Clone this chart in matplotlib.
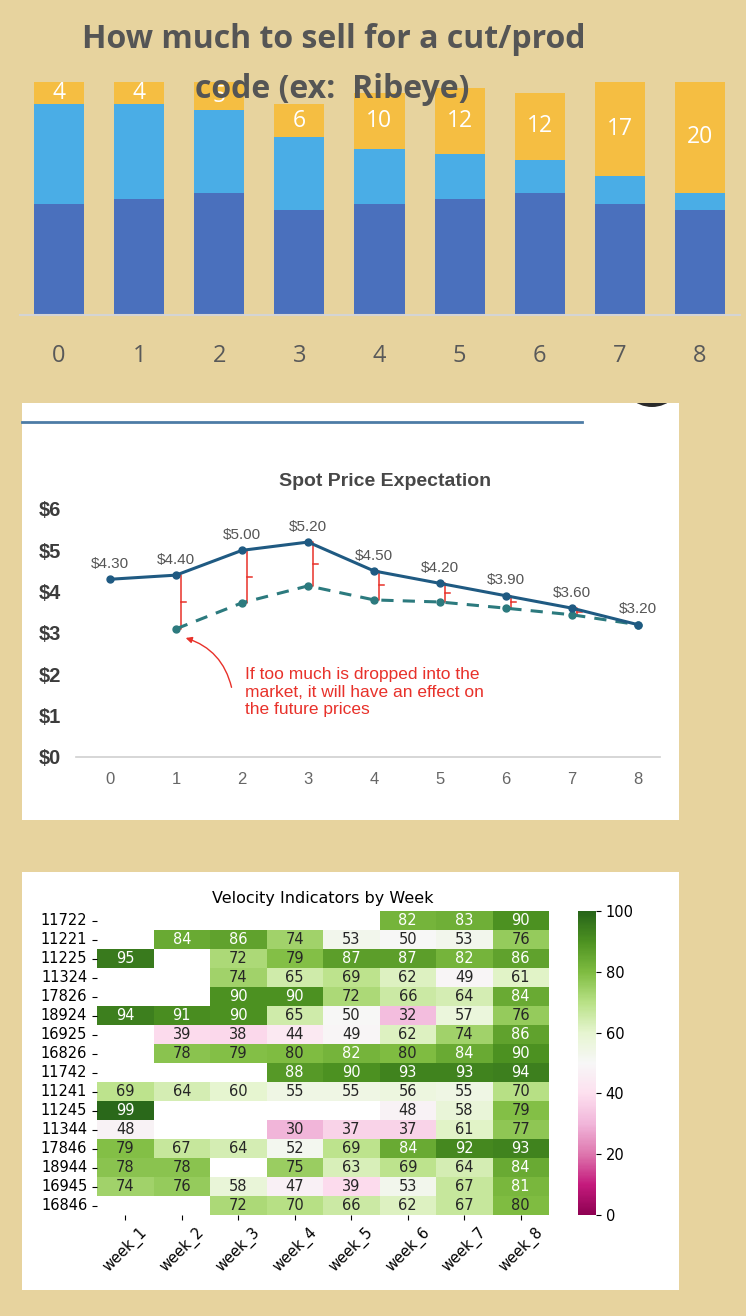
import numpy as np
import matplotlib
matplotlib.use("Agg")
import matplotlib.pyplot as plt
import seaborn as sns
import pandas as pd
from matplotlib.patches import Rectangle, Ellipse

# composite canvas, positions worked out in pixels
W, H = 746, 1316

def box(x0, y0, x1, y1):
    return [x0 / W, 1 - y1 / H, (x1 - x0) / W, (y1 - y0) / H]

def fx(x):
    return x / W

def fy(y):
    return 1 - y / H

# --- top stacked bars
periods = [0, 1, 2, 3, 4, 5, 6, 7, 8]
base_units = [20, 21, 22, 19, 20, 21, 22, 20, 19]
mid_units = [18, 17, 15, 13, 10, 8, 6, 5, 3]
sell_units = [4, 4, 5, 6, 10, 12, 12, 17, 20]

# --- spot price
spot_price = [4.30, 4.40, 5.00, 5.20, 4.50, 4.20, 3.90, 3.60, 3.20]
dropped_periods = [1, 2, 3, 4, 5, 6, 7, 8]
dropped_price = [3.10, 3.73, 4.14, 3.80, 3.75, 3.60, 3.44, 3.20]
price_ticks = [0, 1, 2, 3, 4, 5, 6]

# --- velocity heatmap
nan = np.nan
codes = ["11722", "11221", "11225", "11324", "17826", "18924", "16925", "16826",
         "11742", "11241", "11245", "11344", "17846", "18944", "16945", "16846"]
weeks = ["week_1", "week_2", "week_3", "week_4", "week_5", "week_6", "week_7", "week_8"]
velocity = [
    [nan, nan, nan, nan, nan, 82, 83, 90],
    [nan, 84, 86, 74, 53, 50, 53, 76],
    [95, nan, 72, 79, 87, 87, 82, 86],
    [nan, nan, 74, 65, 69, 62, 49, 61],
    [nan, nan, 90, 90, 72, 66, 64, 84],
    [94, 91, 90, 65, 50, 32, 57, 76],
    [nan, 39, 38, 44, 49, 62, 74, 86],
    [nan, 78, 79, 80, 82, 80, 84, 90],
    [nan, nan, nan, 88, 90, 93, 93, 94],
    [69, 64, 60, 55, 55, 56, 55, 70],
    [99, nan, nan, nan, nan, 48, 58, 79],
    [48, nan, nan, 30, 37, 37, 61, 77],
    [79, 67, 64, 52, 69, 84, 92, 93],
    [78, 78, nan, 75, 63, 69, 64, 84],
    [74, 76, 58, 47, 39, 53, 67, 81],
    [nan, nan, 72, 70, 66, 62, 67, 80],
]

parchment = "#e7d39e"
fig = plt.figure(figsize=(W / 100, H / 100), dpi=100, facecolor=parchment)

# ================= top chart =================
ax1 = fig.add_axes(box(20, 82, 740, 315))
ax1.patch.set_alpha(0)
w = 0.625
ax1.bar(periods, base_units, width=w, color="#4a70bd")
ax1.bar(periods, mid_units, width=w, bottom=base_units, color="#4aade6")
bottoms = [a + b for a, b in zip(base_units, mid_units)]
top_bars = ax1.bar(periods, sell_units, width=w, bottom=bottoms, color="#f5be42")
ax1.bar_label(top_bars, labels=[str(v) for v in sell_units], label_type="center",
              color="white", fontsize=16.5, family="Open Sans")
ax1.set_xlim(-0.487, 8.5)
ax1.set_ylim(0, 42)
for s in ["top", "left", "right"]:
    ax1.spines[s].set_visible(False)
ax1.spines["bottom"].set_color("#d4d4d4")
ax1.spines["bottom"].set_linewidth(1.5)
ax1.set_yticks([])
ax1.set_xticks(periods)
ax1.set_xticklabels([str(p) for p in periods], fontsize=17, color="#595959", family="Open Sans")
ax1.tick_params(axis="x", length=0, pad=21)

# title sits over the bars like in the slide
fig.text(fx(334), fy(40), "How much to sell for a cut/prod", ha="center", va="center",
         fontsize=23, fontweight="bold", color="#555555", family="Open Sans", zorder=10)
fig.text(fx(332), fy(90), "code (ex:  Ribeye)", ha="center", va="center",
         fontsize=23, fontweight="bold", color="#555555", family="Open Sans", zorder=10)

# ================= spot price panel =================
panel2 = Rectangle((fx(22), fy(820)), fx(679) - fx(22), fy(403) - fy(820),
                   transform=fig.transFigure, facecolor="white", edgecolor="none", zorder=-5)
fig.patches.append(panel2)
blob = Ellipse((fx(652), fy(376)), fx(62), 62 / H, transform=fig.transFigure,
               facecolor="#2a2a2a", edgecolor="none", zorder=-4)
blob.set_clip_path(panel2)
fig.patches.append(blob)
fig.lines.append(plt.Line2D([fx(22), fx(582)], [fy(422), fy(422)], transform=fig.transFigure,
                            color="#4d7ca6", linewidth=2))

ax2 = fig.add_axes(box(76, 509, 660, 757))
ax2.patch.set_alpha(0)
ax2.plot(periods, spot_price, color="#1f5a82", lw=2.2, marker="o", ms=5, zorder=4)
ax2.plot(dropped_periods, dropped_price, color="#2c7a7e", lw=2.2, ls=(0, (4, 3)),
         marker="o", ms=5, zorder=3)

# red brackets between expected and dropped-market price
for i, p in enumerate(dropped_periods[:-1]):
    top = spot_price[p]
    bot = dropped_price[i]
    xb = p + 0.08
    ax2.plot([p, xb, xb, p], [top, top, bot, bot], color="#e8312a", lw=1.1, zorder=2)
    ax2.plot([xb, xb + 0.07], [(top + bot) / 2] * 2, color="#e8312a", lw=1.1, zorder=2)

for p, v in zip(periods, spot_price):
    ax2.annotate(f"${v:.2f}", (p, v), xytext=(0, 6), textcoords="offset points",
                 ha="center", va="bottom", fontsize=11, color="#555555",
                 family="Liberation Sans")

ax2.set_xlim(-0.515, 8.33)
ax2.set_ylim(0, 6)
ax2.set_yticks(price_ticks)
ax2.set_yticklabels([f"${t}" for t in price_ticks], fontsize=14.5, fontweight="bold",
                    color="#3c3c3c", family="Liberation Sans")
ax2.set_xticks(periods)
ax2.set_xticklabels([str(p) for p in periods], fontsize=12, color="#666666",
                    family="Liberation Sans")
ax2.tick_params(axis="y", length=0, pad=11)
ax2.tick_params(axis="x", length=0, pad=11)
for s in ["top", "left", "right"]:
    ax2.spines[s].set_visible(False)
ax2.spines["bottom"].set_color("#cfcfcf")
ax2.spines["bottom"].set_linewidth(1.2)

fig.text(fx(385), fy(482), "Spot Price Expectation", ha="center", va="center", fontsize=14,
         fontweight="bold", color="#474747", family="Liberation Sans")
fig.text(fx(245), fy(692), "If too much is dropped into the\nmarket, it will have an effect on\nthe future prices",
         ha="left", va="center", fontsize=12.5, color="#e8312a", family="Liberation Sans",
         linespacing=1.22)
ax2.annotate("", xy=(1.106, 2.9), xytext=(1.85, 1.62),
             arrowprops=dict(arrowstyle="-|>", color="#e8312a", lw=1,
                             connectionstyle="arc3,rad=0.3", mutation_scale=9))

# ================= velocity heatmap =================
panel3 = Rectangle((fx(22), fy(1290)), fx(679) - fx(22), fy(872) - fy(1290),
                   transform=fig.transFigure, facecolor="white", edgecolor="none", zorder=-5)
fig.patches.append(panel3)

ax3 = fig.add_axes(box(97, 911, 549, 1215))
cax = fig.add_axes(box(578, 911, 596, 1215))
df = pd.DataFrame(velocity, index=codes, columns=weeks)
sns.heatmap(df, cmap="PiYG", vmin=0, vmax=100, annot=True, fmt=".0f", ax=ax3, cbar_ax=cax,
            annot_kws={"size": 10.5})
ax3.set_title("Velocity Indicators by Week", fontsize=11.5, pad=6)
ax3.set_xlabel("")
ax3.set_ylabel("")
ax3.set_yticklabels(codes, rotation=0, fontsize=10.5)
ax3.set_xticklabels(weeks, rotation=45, ha="center", fontsize=10.5)
cax.set_yticks([0, 20, 40, 60, 80, 100])
cax.tick_params(labelsize=10.5)

fig.savefig("out.png", dpi=100, facecolor=parchment)
